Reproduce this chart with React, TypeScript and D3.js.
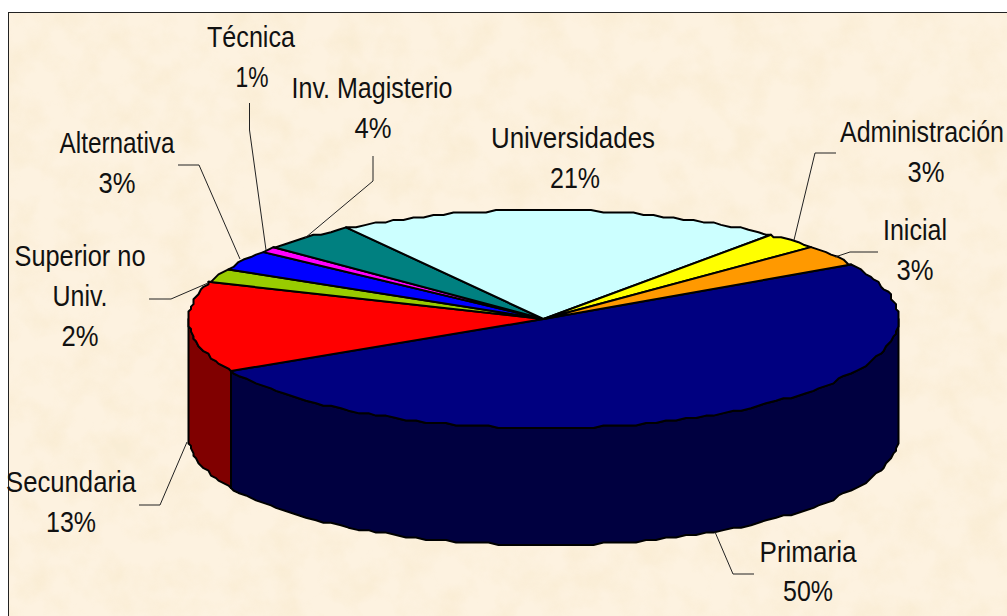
import React from "react";
import * as d3 from "d3";

const categories = ["Primaria", "Secundaria", "Superior no Univ.", "Alternativa", "Técnica", "Inv. Magisterio", "Universidades", "Administración", "Inicial"];
const values = [50.5, 13.2, 2.1, 3.1, 0.6, 4.4, 20.4, 2.5, 3.2];
const percentLabels = ["50%", "13%", "2%", "3%", "1%", "4%", "21%", "3%", "3%"];
const topColors = ["#000080", "#FF0000", "#99CC00", "#0000FF", "#FF00FF", "#008080", "#CCFFFF", "#FFFF00", "#FF9900"];
const sideColors = ["#000040", "#800000", "#4D6600", "#000080", "#800080", "#004040", "#668080", "#808000", "#804D00"];

const W = 1007, H = 616;
const cx = 543.5, cy = 319, rx = 355, ry = 109, depth = 117;
const startDeg = 60.2;

const labelLines: string[][] = [["Primaria"], ["Secundaria"], ["Superior no", "Univ."], ["Alternativa"], ["Técnica"], ["Inv. Magisterio"], ["Universidades"], ["Administración"], ["Inicial"]];
const labelPos = [[808, 562], [71, 492], [80, 266], [117, 153], [251, 47], [372, 98], [573, 148], [922, 142], [915, 240]];
const percentX = [808, 71, 80, 117, 252, 373, 575, 926, 915];
const labelWidths: number[][] = [[97], [130], [131, 55], [115], [88], [161], [164], [164], [64]];
const leaders: ([number, number][] | null)[] = [
  [[715, 532], [733, 574], [754, 574]],
  [[187, 442], [160, 505], [139, 505]],
  [[208, 283], [171, 299], [149, 299]],
  [[240, 259], [199, 165], [178, 165]],
  [[266, 250], [249.5, 130], [249.5, 103]],
  [[305, 238], [373, 181], [373, 156]],
  null,
  [[794, 240], [815, 153], [836, 153]],
  [[835, 257], [850, 252], [878, 252]],
];

const pie = d3.pie<number>().sort(null).startAngle((startDeg * Math.PI) / 180).endAngle((startDeg * Math.PI) / 180 + 2 * Math.PI);
const arcs = pie(values);
const line = d3.line();

// The reference's rim is a fine polygon snapped to a grid of about 2.5px.
const qx = rx / 142, qy = ry / 44, step = 0.03;
const pt = (a: number, dy = 0): [number, number] => [
  cx + Math.round((rx * Math.sin(a)) / qx) * qx,
  cy - Math.round((ry * Math.cos(a)) / qy) * qy + dy,
];
// Samples sit on one shared angle grid, so the wall's top edge and the face's rim coincide.
const sample = (a0: number, a1: number, dy = 0) => {
  const lo = Math.min(a0, a1), hi = Math.max(a0, a1);
  const inner = d3.range(Math.ceil(lo / step), Math.floor(hi / step) + 1).map((k) => k * step);
  const as = [lo, ...inner, hi];
  return (a0 <= a1 ? as : as.reverse()).map((a) => pt(a, dy));
};

const Pi = Math.PI;
const sidePaths = arcs.flatMap((d, i) => {
  const out: { key: string; d: string; fill: string }[] = [];
  for (const k of [0, 2]) {
    const a0 = Math.max(d.startAngle, Pi / 2 + k * Pi);
    const a1 = Math.min(d.endAngle, (3 * Pi) / 2 + k * Pi);
    if (a1 > a0) {
      const top = sample(a0, a1);
      const bot = sample(a1, a0, depth);
      out.push({ key: `${i}-${k}`, d: line([...top, ...bot])! + "Z", fill: sideColors[i] });
    }
  }
  return out;
});

export default function App() {
  return (
    <svg width={W} height={H} viewBox={`0 0 ${W} ${H}`} style={{ position: "fixed", left: 0, top: 0, background: "#fff" }}>
      <defs>
        <filter id="parch" x="0" y="0" width="100%" height="100%">
          <feTurbulence type="fractalNoise" baseFrequency="0.03" numOctaves={4} seed={7} />
          <feColorMatrix type="matrix" values="0 0 0 0 0.90  0 0 0 0 0.76  0 0 0 0 0.50  2.2 0 0 0 -0.85" />
        </filter>
      </defs>
      <rect x={8.5} y={12.5} width={W} height={H} fill="#FDF2E0" />
      <rect x={8.5} y={12.5} width={W} height={H} filter="url(#parch)" opacity={0.3} />
      <rect x={8.5} y={12.5} width={W} height={H} fill="none" stroke="#222" strokeWidth={1} />

      <g stroke="#000" strokeWidth={2} strokeLinejoin="round">
        {sidePaths.map((s) => <path key={s.key} d={s.d} fill={s.fill} />)}
        {arcs.map((d, i) => (
          <path key={i} d={line([[cx, cy], ...sample(d.startAngle, d.endAngle)])! + "Z"} fill={topColors[i]} />
        ))}
      </g>

      <g fill="none" stroke="#222" strokeWidth={1}>
        {leaders.map((l, i) => l && <path key={i} d={line(l)!} />)}
      </g>

      <g fontFamily="'Liberation Sans', Arial, sans-serif" fontSize={29} fill="#111" textAnchor="middle">
        {categories.map((c, i) => {
          const [x, y] = labelPos[i];
          const ls = labelLines[i];
          const p = percentLabels[i];
          return (
            <g key={c}>
              {ls.map((t, j) => (
                <text key={t} x={x} y={y + j * 40} textLength={labelWidths[i][j]} lengthAdjust="spacingAndGlyphs">{t}</text>
              ))}
              <text x={percentX[i]} y={y + ls.length * 40 - (i === 0 ? 1 : 0)} textLength={p === "1%" ? 33 : p.length * 13 + 11} lengthAdjust="spacingAndGlyphs">{p}</text>
            </g>
          );
        })}
      </g>
    </svg>
  );
}
